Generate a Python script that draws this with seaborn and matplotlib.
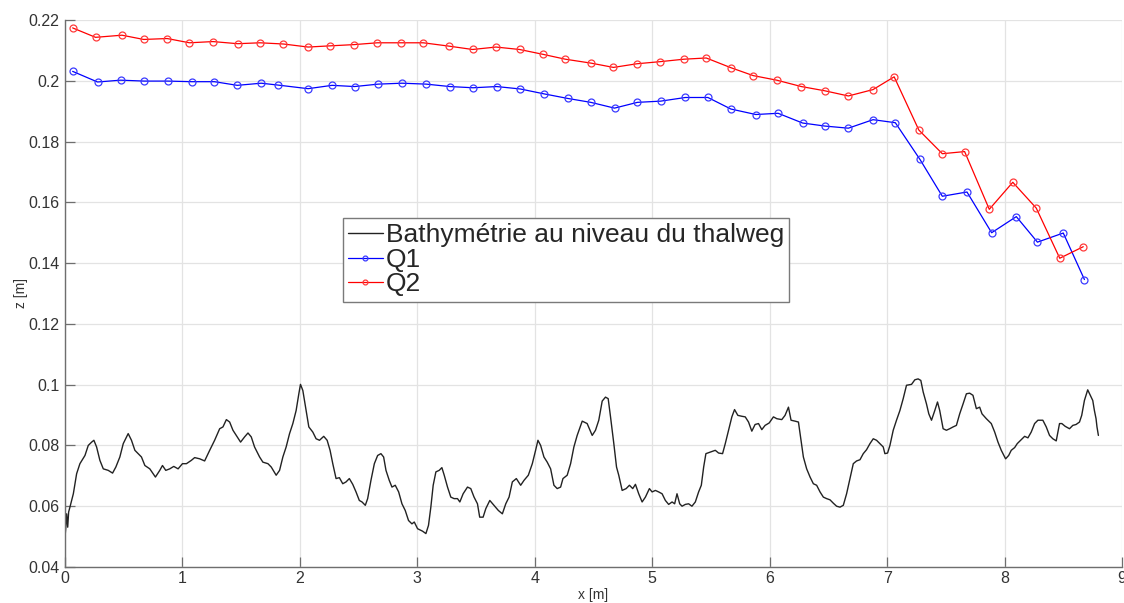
import numpy as np
import pandas as pd
import seaborn as sns
import matplotlib
matplotlib.use("Agg")
import matplotlib.pyplot as plt

# ---------------- data ----------------
q1_x = [0.065, 0.277, 0.473, 0.674, 0.873, 1.079, 1.272, 1.467, 1.671, 1.810, 2.070, 2.274,
        2.466, 2.667, 2.869, 3.075, 3.277, 3.475, 3.676, 3.877, 4.078, 4.279, 4.477, 4.679,
        4.874, 5.072, 5.282, 5.474, 5.670, 5.882, 6.072, 6.28, 6.47, 6.67, 6.88, 7.07, 7.28,
        7.47, 7.68, 7.89, 8.10, 8.28, 8.50, 8.68]
q1_z = [0.2031, 0.1996, 0.2002, 0.1999, 0.1999, 0.1997, 0.1997, 0.1985, 0.1992, 0.1986, 0.1974,
        0.1985, 0.1981, 0.1989, 0.1992, 0.1989, 0.1981, 0.1977, 0.1981, 0.1973, 0.1957, 0.1942,
        0.1929, 0.1910, 0.1929, 0.1933, 0.1945, 0.1945, 0.1907, 0.1889, 0.1893, 0.1861, 0.1851,
        0.1844, 0.1872, 0.1862, 0.1741, 0.1620, 0.1634, 0.1500, 0.1553, 0.1469, 0.1499, 0.1346]

q2_x = [0.065, 0.26, 0.485, 0.67, 0.87, 1.06, 1.26, 1.47, 1.66, 1.86, 2.07, 2.26, 2.46, 2.66,
        2.86, 3.05, 3.27, 3.47, 3.67, 3.87, 4.07, 4.26, 4.48, 4.67, 4.87, 5.07, 5.27, 5.46,
        5.67, 5.86, 6.06, 6.27, 6.47, 6.67, 6.88, 7.06, 7.27, 7.47, 7.66, 7.87, 8.07, 8.27,
        8.47, 8.67]
q2_z = [0.2174, 0.2143, 0.2150, 0.2136, 0.2139, 0.2125, 0.2129, 0.2122, 0.2125, 0.2121, 0.2111,
        0.2115, 0.2119, 0.2125, 0.2125, 0.2125, 0.2114, 0.2103, 0.2111, 0.2103, 0.2087, 0.2071,
        0.2058, 0.2044, 0.2056, 0.2063, 0.2071, 0.2075, 0.2043, 0.2017, 0.2002, 0.1981, 0.1967,
        0.1950, 0.1971, 0.2013, 0.1838, 0.1760, 0.1767, 0.1577, 0.1666, 0.1581, 0.1416, 0.1454]

bathy_x = [0.000, 0.006, 0.014, 0.023, 0.031, 0.042, 0.071, 0.099, 0.127, 0.170, 0.198, 0.227,
           0.246, 0.269, 0.297, 0.326, 0.368, 0.405, 0.433, 0.467, 0.496, 0.538, 0.566, 0.595,
           0.623, 0.651, 0.680, 0.722, 0.770, 0.807, 0.830, 0.858, 0.892, 0.926, 0.963, 1.000,
           1.034, 1.076, 1.104, 1.147, 1.189, 1.232, 1.274, 1.317, 1.345, 1.374, 1.402, 1.430,
           1.458, 1.495, 1.529, 1.558, 1.586, 1.614, 1.657, 1.685, 1.728, 1.756, 1.798, 1.827,
           1.855, 1.883, 1.912, 1.940, 1.968, 1.991, 2.005, 2.025, 2.053, 2.076, 2.110, 2.138,
           2.167, 2.203, 2.232, 2.257, 2.280, 2.308, 2.336, 2.365, 2.393, 2.421, 2.450, 2.478,
           2.506, 2.529, 2.557, 2.577, 2.605, 2.634, 2.662, 2.690, 2.713, 2.733, 2.761, 2.784,
           2.812, 2.841, 2.869, 2.897, 2.925, 2.954, 2.974, 3.002, 3.044, 3.073, 3.095, 3.115,
           3.135, 3.158, 3.186, 3.209, 3.229, 3.257, 3.285, 3.313, 3.342, 3.362, 3.390, 3.427,
           3.455, 3.483, 3.512, 3.531, 3.560, 3.583, 3.617, 3.653, 3.690, 3.724, 3.753, 3.781,
           3.809, 3.843, 3.880, 3.908, 3.945, 3.979, 4.007, 4.027, 4.050, 4.078, 4.106, 4.135,
           4.163, 4.191, 4.220, 4.240, 4.276, 4.305, 4.333, 4.361, 4.404, 4.446, 4.489, 4.517,
           4.545, 4.574, 4.602, 4.625, 4.645, 4.673, 4.696, 4.715, 4.744, 4.778, 4.806, 4.834,
           4.857, 4.885, 4.914, 4.942, 4.976, 4.999, 5.027, 5.055, 5.084, 5.112, 5.140, 5.169,
           5.191, 5.211, 5.234, 5.254, 5.282, 5.310, 5.338, 5.367, 5.395, 5.418, 5.438, 5.457,
           5.494, 5.537, 5.565, 5.599, 5.622, 5.650, 5.678, 5.701, 5.729, 5.763, 5.792, 5.820,
           5.848, 5.876, 5.905, 5.933, 5.961, 5.996, 6.032, 6.061, 6.103, 6.131, 6.160, 6.182,
           6.216, 6.245, 6.267, 6.287, 6.315, 6.344, 6.372, 6.400, 6.429, 6.457, 6.485, 6.514,
           6.542, 6.570, 6.599, 6.627, 6.655, 6.684, 6.712, 6.740, 6.769, 6.797, 6.825, 6.854,
           6.882, 6.910, 6.939, 6.967, 6.981, 7.004, 7.024, 7.052, 7.080, 7.109, 7.137, 7.165,
           7.208, 7.236, 7.264, 7.287, 7.307, 7.335, 7.355, 7.378, 7.406, 7.429, 7.448, 7.477,
           7.505, 7.533, 7.562, 7.590, 7.618, 7.647, 7.675, 7.703, 7.731, 7.760, 7.788, 7.808,
           7.845, 7.887, 7.916, 7.944, 7.972, 8.009, 8.035, 8.057, 8.086, 8.108, 8.137, 8.171,
           8.199, 8.227, 8.256, 8.284, 8.326, 8.355, 8.383, 8.411, 8.440, 8.468, 8.488, 8.516,
           8.553, 8.581, 8.609, 8.638, 8.657, 8.680, 8.708, 8.737, 8.751, 8.765, 8.779, 8.787,
           8.799]
bathy_z = [0.0499, 0.0526, 0.0575, 0.0531, 0.0581, 0.0597, 0.0641, 0.0707, 0.0740, 0.0767, 0.0800,
           0.0811, 0.0817, 0.0795, 0.0751, 0.0723, 0.0718, 0.0709, 0.0729, 0.0762, 0.0806, 0.0839,
           0.0817, 0.0784, 0.0773, 0.0762, 0.0734, 0.0723, 0.0696, 0.0718, 0.0734, 0.0718, 0.0723,
           0.0731, 0.0723, 0.0740, 0.0740, 0.0751, 0.0760, 0.0756, 0.0749, 0.0784, 0.0817, 0.0855,
           0.0861, 0.0885, 0.0877, 0.0850, 0.0833, 0.0811, 0.0828, 0.0841, 0.0828, 0.0795, 0.0762,
           0.0745, 0.0740, 0.0729, 0.0702, 0.0718, 0.0762, 0.0795, 0.0839, 0.0872, 0.0915, 0.0970,
           0.1001, 0.0981, 0.0915, 0.0861, 0.0844, 0.0822, 0.0817, 0.0830, 0.0817, 0.0784, 0.0740,
           0.0691, 0.0694, 0.0674, 0.0680, 0.0691, 0.0672, 0.0647, 0.0619, 0.0614, 0.0603, 0.0625,
           0.0685, 0.0740, 0.0767, 0.0773, 0.0762, 0.0718, 0.0685, 0.0663, 0.0669, 0.0647, 0.0608,
           0.0586, 0.0553, 0.0542, 0.0548, 0.0526, 0.0518, 0.0510, 0.0537, 0.0597, 0.0669, 0.0713,
           0.0718, 0.0727, 0.0702, 0.0663, 0.0630, 0.0625, 0.0625, 0.0614, 0.0641, 0.0663, 0.0658,
           0.0630, 0.0608, 0.0564, 0.0564, 0.0592, 0.0619, 0.0603, 0.0586, 0.0575, 0.0608, 0.0630,
           0.0680, 0.0691, 0.0669, 0.0685, 0.0702, 0.0740, 0.0784, 0.0817, 0.0800, 0.0762, 0.0745,
           0.0723, 0.0669, 0.0658, 0.0663, 0.0691, 0.0702, 0.0740, 0.0795, 0.0833, 0.0880, 0.0872,
           0.0833, 0.0850, 0.0883, 0.0946, 0.0959, 0.0954, 0.0894, 0.0806, 0.0729, 0.0702, 0.0652,
           0.0658, 0.0669, 0.0658, 0.0672, 0.0641, 0.0614, 0.0630, 0.0658, 0.0647, 0.0652, 0.0647,
           0.0641, 0.0619, 0.0606, 0.0614, 0.0608, 0.0641, 0.0608, 0.0600, 0.0606, 0.0608, 0.0600,
           0.0614, 0.0647, 0.0669, 0.0729, 0.0773, 0.0778, 0.0784, 0.0775, 0.0773, 0.0806, 0.0850,
           0.0894, 0.0918, 0.0899, 0.0896, 0.0894, 0.0877, 0.0847, 0.0869, 0.0872, 0.0852, 0.0866,
           0.0874, 0.0894, 0.0888, 0.0885, 0.0899, 0.0926, 0.0883, 0.0880, 0.0877, 0.0817, 0.0762,
           0.0723, 0.0696, 0.0674, 0.0669, 0.0647, 0.0630, 0.0625, 0.0621, 0.0610, 0.0600, 0.0597,
           0.0603, 0.0641, 0.0691, 0.0740, 0.0749, 0.0753, 0.0773, 0.0786, 0.0806, 0.0822, 0.0817,
           0.0806, 0.0795, 0.0773, 0.0775, 0.0800, 0.0850, 0.0883, 0.0915, 0.0954, 0.0998, 0.1001,
           0.1016, 0.1019, 0.1014, 0.0976, 0.0937, 0.0904, 0.0883, 0.0915, 0.0943, 0.0915, 0.0855,
           0.0850, 0.0855, 0.0861, 0.0866, 0.0904, 0.0937, 0.0970, 0.0972, 0.0965, 0.0921, 0.0926,
           0.0904, 0.0888, 0.0872, 0.0844, 0.0811, 0.0784, 0.0756, 0.0767, 0.0784, 0.0793, 0.0806,
           0.0817, 0.0830, 0.0825, 0.0844, 0.0872, 0.0883, 0.0883, 0.0861, 0.0833, 0.0822, 0.0815,
           0.0872, 0.0872, 0.0863, 0.0855, 0.0866, 0.0869, 0.0877, 0.0899, 0.0948, 0.0983, 0.0959,
           0.0948, 0.0915, 0.0888, 0.0861, 0.0833]

x_ticks = [0, 1, 2, 3, 4, 5, 6, 7, 8, 9]
y_ticks = [0.04, 0.06, 0.08, 0.1, 0.12, 0.14, 0.16, 0.18, 0.2, 0.22]
y_tick_labels = ["0.04", "0.06", "0.08", "0.1", "0.12", "0.14", "0.16", "0.18", "0.2", "0.22"]
label_bathy = "Bathymétrie au niveau du thalweg"
label_q1 = "Q1"
label_q2 = "Q2"

# ---------------- plot ----------------
sns.set_theme(style="white")
plt.rcParams["font.family"] = ["Liberation Sans", "DejaVu Sans"]

fig = plt.figure(figsize=(11.24, 6.03), dpi=100)
ax = fig.add_axes([65 / 1124, 36 / 603, 1057 / 1124, 547 / 603])

sns.lineplot(x=bathy_x, y=bathy_z, ax=ax, color="#222222", linewidth=1.0,
             label=label_bathy, sort=False)
sns.lineplot(x=q1_x, y=q1_z, ax=ax, color="#0000ff", linewidth=0.9, marker="o",
             markersize=5, markerfacecolor="none", markeredgecolor="#3a3aff",
             markeredgewidth=0.9, label=label_q1, sort=False)
sns.lineplot(x=q2_x, y=q2_z, ax=ax, color="#ff0000", linewidth=0.9, marker="o",
             markersize=5, markerfacecolor="none", markeredgecolor="#ff3a3a",
             markeredgewidth=0.9, label=label_q2, sort=False)

ax.set_xlim(0, 9)
ax.set_ylim(0.04, 0.22)
ax.set_xticks(x_ticks)
ax.set_xticklabels([str(t) for t in x_ticks])
ax.set_yticks(y_ticks)
ax.set_yticklabels(y_tick_labels)

ax.grid(True, color="#e3e3e3", linewidth=0.9)
ax.set_axisbelow(True)
for side in ["top", "right"]:
    ax.spines[side].set_visible(False)
for side in ["left", "bottom"]:
    ax.spines[side].set_color("#6e6e6e")
    ax.spines[side].set_linewidth(1.0)
ax.tick_params(axis="both", which="major", bottom=True, left=True, top=False, right=False,
               direction="in", length=7, width=0.9, color="#6e6e6e",
               labelsize=11.5, labelcolor="#333333", pad=3)
ax.tick_params(axis="y", pad=4)

ax.set_xlabel("x [m]", fontsize=10, color="#333333", labelpad=1)
ax.set_ylabel("z [m]", fontsize=10, color="#333333", labelpad=0)

leg = ax.legend(loc="upper left", bbox_to_anchor=(0.263, 0.638), borderaxespad=0,
                fontsize=19, frameon=True, fancybox=False, framealpha=1,
                handlelength=1.3, handletextpad=0.12, borderpad=0.2, labelspacing=0.02,
                markerscale=0.7)
leg.get_frame().set_edgecolor("#7a7a7a")
leg.get_frame().set_linewidth(1.0)

fig.savefig("out.png", dpi=100, facecolor="white")
